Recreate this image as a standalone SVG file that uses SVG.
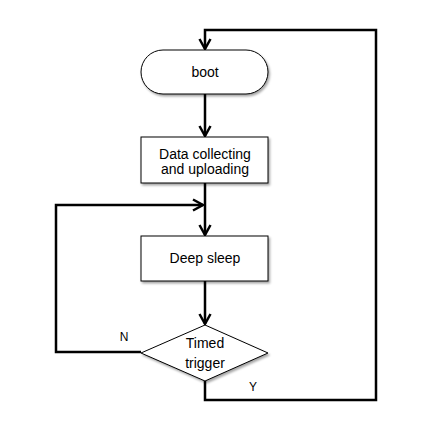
<svg xmlns="http://www.w3.org/2000/svg" width="435" height="438" viewBox="0 0 435 438">
<style>
.node{fill:#ffffff;stroke:#000000;stroke-width:1;filter:url(#sh)}
.lbl{font-family:"Liberation Sans",Arial,sans-serif;font-size:14px;fill:#000000;text-anchor:middle}
.edge{fill:none;stroke:#000000;stroke-width:2.5;stroke-linejoin:miter}
.arr{marker-end:url(#ah)}
</style>
<defs>
<filter id="sh" x="-10%" y="-10%" width="130%" height="140%">
<feDropShadow dx="1.5" dy="2" stdDeviation="1" flood-color="#000000" flood-opacity="0.35"/>
</filter>
<marker id="ah" markerUnits="userSpaceOnUse" markerWidth="14" markerHeight="14" refX="11" refY="6" orient="auto" viewBox="0 0 14 12">
<path d="M1,0.5 L11,6 L1,11.5" fill="none" stroke="#000000" stroke-width="2.5"/>
</marker>
</defs>
<rect width="435" height="438" fill="#ffffff"/>
<g id="connectors">
<path class="edge arr" d="M205,94 L205,136"/>
<path class="edge arr" d="M205,183 L205,235"/>
<path class="edge arr" d="M205,281 L205,324"/>
<path class="edge arr" d="M141,352 L56,352 L56,205 L203,205"/>
<path class="edge arr" d="M205,381 L205,400 L376,400 L376,30 L205,30 L205,49"/>
</g>
<g id="boot">
<rect class="node" x="141" y="50" width="127" height="44" rx="22" ry="22"/>
<text class="lbl" x="205" y="77">boot</text>
</g>
<g id="data">
<rect class="node" x="141" y="137" width="127" height="46"/>
<text class="lbl" x="205" y="159">Data collecting</text>
<text class="lbl" x="205" y="174">and uploading</text>
</g>
<g id="sleep">
<rect class="node" x="141" y="236" width="127" height="45"/>
<text class="lbl" x="205" y="263">Deep sleep</text>
</g>
<g id="trigger">
<polygon class="node" points="205,325 268,353 205,381 141,353"/>
<text class="lbl" x="205" y="348">Timed</text>
<text class="lbl" x="205" y="368">trigger</text>
</g>
<g id="edge-labels">
<text class="lbl" x="124" y="341" style="font-size:12px">N</text>
<text class="lbl" x="253" y="391" style="font-size:12px">Y</text>
</g>
</svg>
